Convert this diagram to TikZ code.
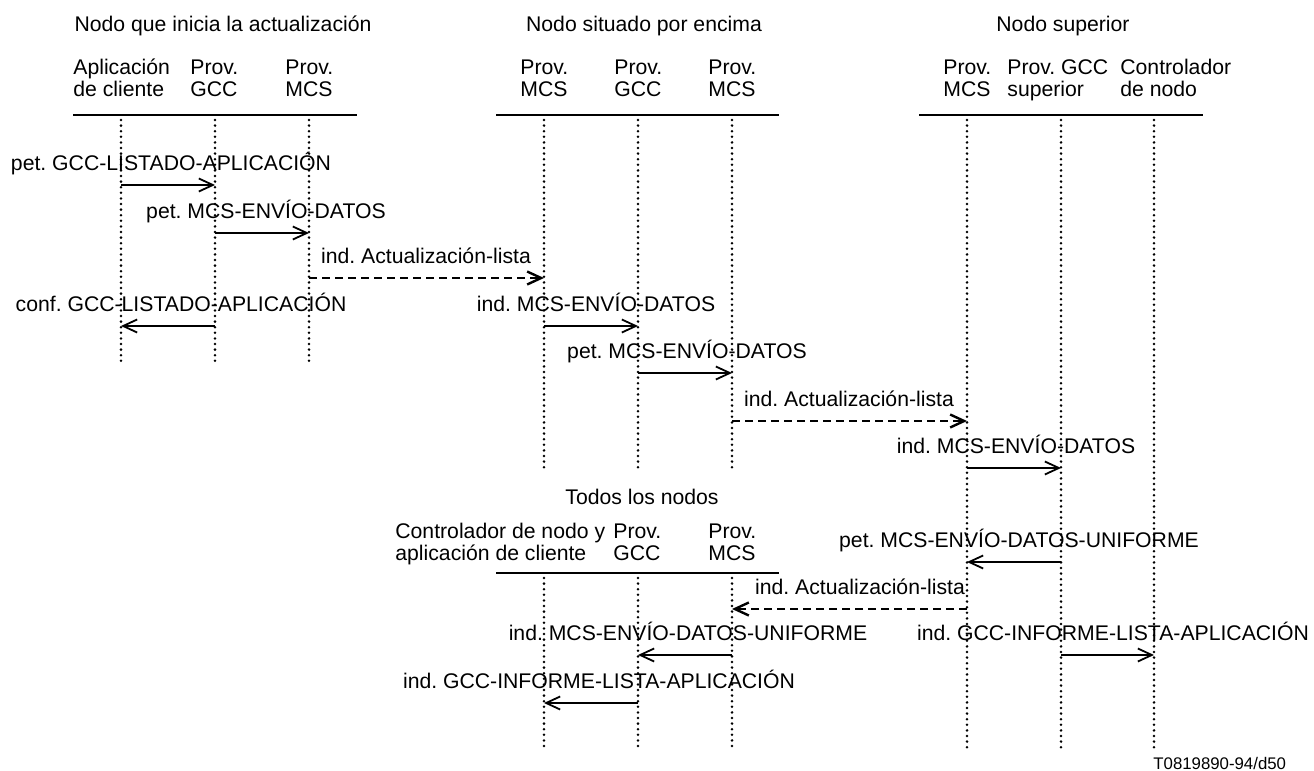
\documentclass[tikz,border=0pt]{standalone}
\usepackage{fontspec}
\setmainfont{Liberation Sans}
\usetikzlibrary{arrows.meta}
\frenchspacing

\begin{document}
\begin{tikzpicture}[x=0.5pt, y=-0.5pt,
	every node/.style={font=\fontsize{10.6}{11}\selectfont, inner sep=0pt},
	header/.style={anchor=base west, align=left},
	title/.style={anchor=base},
	msglabel/.style={anchor=base},
	lifeline/.style={line width=1.4pt, line cap=round, dash pattern=on 0pt off 2.8pt},
	rule/.style={line width=0.8pt},
	msg/.style={line width=0.9pt, -{Straight Barb[length=7pt,width=6.5pt]}},
	update/.style={msg, line width=1.2pt, dash pattern=on 4pt off 2.5pt}]
	\useasboundingbox (0,0) rectangle (1314,771);

	% Nodo que inicia la actualizacion
	\node[title] (tini) at (223,32) {Nodo que inicia la actualización};
	\node[header] (hiapp) at (73,97) {Aplicación\\de cliente};
	\node[header] (higcc) at (190,97) {Prov.\\GCC};
	\node[header] (himcs) at (285,97) {Prov.\\MCS};
	\draw[rule] (73,115) -- (357,115);
	\coordinate (iapp) at (121,120);  \coordinate (iappb) at (121,362);
	\coordinate (igcc) at (215,120);  \coordinate (igccb) at (215,362);
	\coordinate (imcs) at (309,120);  \coordinate (imcsb) at (309,362);
	\draw[lifeline] (iapp) -- (iappb);
	\draw[lifeline] (igcc) -- (igccb);
	\draw[lifeline] (imcs) -- (imcsb);

	% Nodo situado por encima
	\node[title] (tenc) at (644,32) {Nodo situado por encima};
	\node[header] (hemcsa) at (520,97) {Prov.\\MCS};
	\node[header] (hegcc) at (614,97) {Prov.\\GCC};
	\node[header] (hemcsb) at (708,97) {Prov.\\MCS};
	\draw[rule] (496,115) -- (779,115);
	\coordinate (emcsa) at (544,120);  \coordinate (emcsab) at (544,468);
	\coordinate (egcc) at (638,120);   \coordinate (egccb) at (638,468);
	\coordinate (emcsb) at (732,120);  \coordinate (emcsbb) at (732,468);
	\draw[lifeline] (emcsa) -- (emcsab);
	\draw[lifeline] (egcc) -- (egccb);
	\draw[lifeline] (emcsb) -- (emcsbb);

	% Nodo superior
	\node[title] (tsup) at (1063,32) {Nodo superior};
	\node[header] (hsmcs) at (943,97) {Prov.\\MCS};
	\node[header] (hsgcc) at (1007,97) {Prov. GCC\\superior};
	\node[header] (hsctl) at (1120,97) {Controlador\\de nodo};
	\draw[rule] (919,115) -- (1203,115);
	\coordinate (smcs) at (967,120);  \coordinate (smcsb) at (967,750);
	\coordinate (sgcc) at (1061,120); \coordinate (sgccb) at (1061,750);
	\coordinate (sctl) at (1154,120); \coordinate (sctlb) at (1154,750);
	\draw[lifeline] (smcs) -- (smcsb);
	\draw[lifeline] (sgcc) -- (sgccb);
	\draw[lifeline] (sctl) -- (sctlb);

	% Todos los nodos
	\node[title] (ttod) at (642,504) {Todos los nodos};
	\node[header] (htapp) at (395,560) {Controlador de nodo y\\aplicación de cliente};
	\node[header] (htgcc) at (613,560) {Prov.\\GCC};
	\node[header] (htmcs) at (708,560) {Prov.\\MCS};
	\draw[rule] (496,573) -- (779,573);
	\coordinate (tapp) at (544,578);  \coordinate (tappb) at (544,750);
	\coordinate (tgcc) at (638,578);  \coordinate (tgccb) at (638,750);
	\coordinate (tmcs) at (732,578);  \coordinate (tmcsb) at (732,750);
	\draw[lifeline] (tapp) -- (tappb);
	\draw[lifeline] (tgcc) -- (tgccb);
	\draw[lifeline] (tmcs) -- (tmcsb);

	% mensajes
	\coordinate (r1) at (0,185);
	\node[msglabel] (l1) at (171,170) {pet. GCC-LISTADO-APLICACIÓN};
	\draw[msg] (iapp |- r1) -- (igcc |- r1);
	\coordinate (r2) at (0,233);
	\node[msglabel] (l2) at (266,218) {pet. MCS-ENVÍO-DATOS};
	\draw[msg] (igcc |- r2) -- (imcs |- r2);
	\coordinate (r3) at (0,278);
	\node[msglabel] (l3) at (426,263) {ind. Actualización-lista};
	\draw[update] (imcs |- r3) -- (emcsa |- r3);
	\coordinate (r4) at (0,326);
	\node[msglabel] (l4) at (181,311) {conf. GCC-LISTADO-APLICACIÓN};
	\draw[msg] (igcc |- r4) -- (iapp |- r4);
	\node[msglabel] (l5) at (596,311) {ind. MCS-ENVÍO-DATOS};
	\draw[msg] (emcsa |- r4) -- (egcc |- r4);
	\coordinate (r6) at (0,373);
	\node[msglabel] (l6) at (687,358) {pet. MCS-ENVÍO-DATOS};
	\draw[msg] (egcc |- r6) -- (emcsb |- r6);
	\coordinate (r7) at (0,421);
	\node[msglabel] (l7) at (849,406) {ind. Actualización-lista};
	\draw[update] (emcsb |- r7) -- (smcs |- r7);
	\coordinate (r8) at (0,468);
	\node[msglabel] (l8) at (1016,453) {ind. MCS-ENVÍO-DATOS};
	\draw[msg] (smcs |- r8) -- (sgcc |- r8);
	\coordinate (r9) at (0,562);
	\node[msglabel] (l9) at (1019,547) {pet. MCS-ENVÍO-DATOS-UNIFORME};
	\draw[msg] (sgcc |- r9) -- (smcs |- r9);
	\coordinate (r10) at (0,609);
	\node[msglabel] (l10) at (860,594) {ind. Actualización-lista};
	\draw[update] (smcs |- r10) -- (tmcs |- r10);
	\coordinate (r11) at (0,655);
	\node[msglabel] (l11) at (688,640) {ind. MCS-ENVÍO-DATOS-UNIFORME};
	\draw[msg] (tmcs |- r11) -- (tgcc |- r11);
	\node[msglabel] (l12) at (1113,640) {ind. GCC-INFORME-LISTA-APLICACIÓN};
	\draw[msg] (sgcc |- r11) -- (sctl |- r11);
	\coordinate (r13) at (0,703);
	\node[msglabel] (l13) at (599,688) {ind. GCC-INFORME-LISTA-APLICACIÓN};
	\draw[msg] (tgcc |- r13) -- (tapp |- r13);

	% referencia
	\node[anchor=base west, font=\fontsize{8.4}{10}\selectfont] (ref) at (1153,769) {T0819890-94/d50};
\end{tikzpicture}
\end{document}
